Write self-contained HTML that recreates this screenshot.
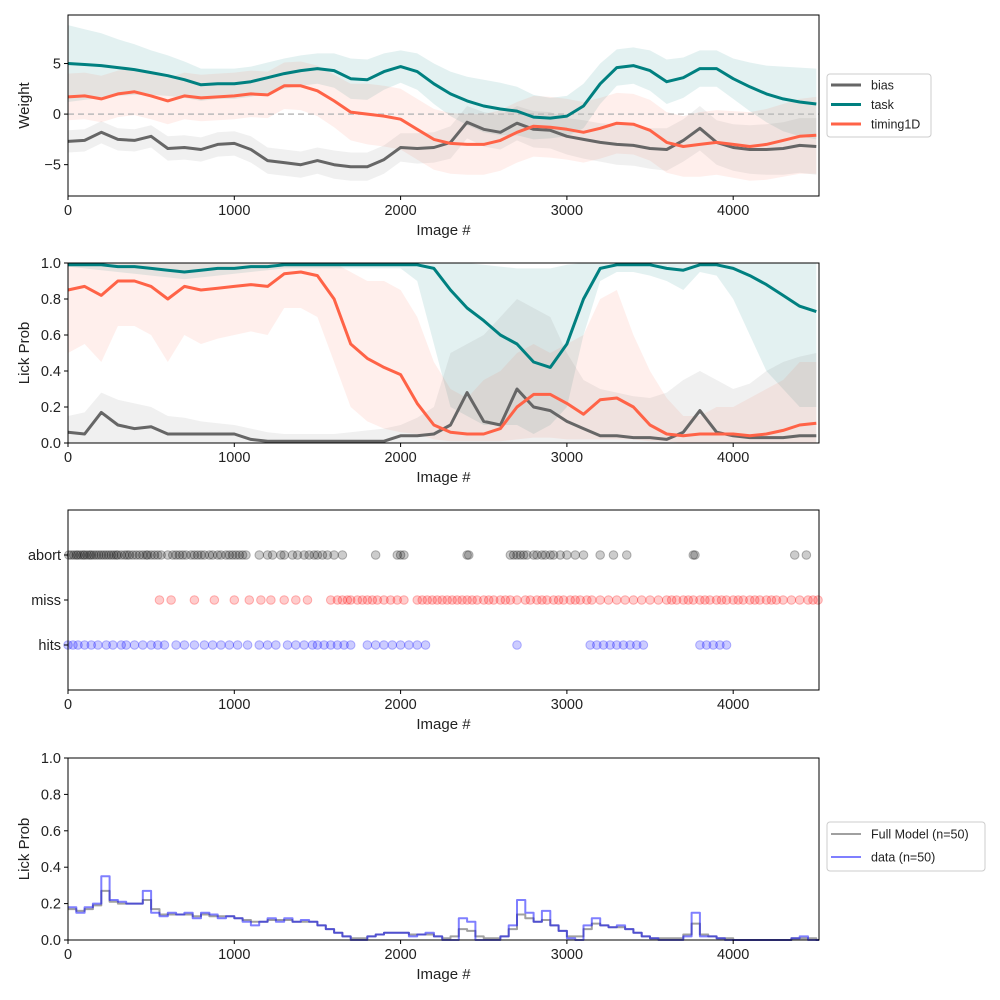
<!DOCTYPE html>
<html><head><meta charset="utf-8">
<style>
html,body{margin:0;padding:0;background:#fff;}
svg{display:block;font-family:"Liberation Sans","DejaVu Sans",sans-serif;}
</style></head>
<body>
<svg id="fig" width="1000" height="1000" viewBox="0 0 1000 1000" xmlns="http://www.w3.org/2000/svg"></svg>
<script>
// ---------- data (step 100 from 0 to 4500) ----------
const xs100 = Array.from({length:46},(_,i)=>i*100);
const taskW = [5,4.9,4.8,4.6,4.4,4.1,3.8,3.4,2.9,3.0,3.0,3.2,3.6,4.0,4.3,4.5,4.3,3.5,3.4,4.2,4.7,4.2,3.0,2.0,1.3,0.8,0.5,0.3,-0.3,-0.4,-0.2,0.8,3.0,4.6,4.8,4.3,3.2,3.6,4.5,4.5,3.5,2.7,2.0,1.5,1.2,1.0];
const taskErr = [3.8,3.5,3.2,2.8,2.5,2.2,2,1.8,1.6,1.5,1.5,1.5,1.5,1.5,1.5,1.5,1.7,2,2,1.8,1.6,1.8,2,2.2,2.4,2.6,2.6,2.4,2.2,2,2,2.2,2,1.8,1.8,2,2.2,2,1.8,1.8,2,2.4,2.8,3.2,3.4,3.5];
const timingW = [1.7,1.8,1.5,2.0,2.2,1.8,1.3,1.8,1.6,1.7,1.8,2.0,1.9,2.8,2.8,2.3,1.3,0.2,0,-0.2,-0.5,-1.5,-2.5,-2.9,-3.0,-3.0,-2.6,-1.8,-1.2,-1.3,-1.5,-1.8,-1.4,-0.9,-1.0,-1.6,-2.8,-3.2,-3.0,-2.8,-3.0,-3.2,-3.0,-2.6,-2.2,-2.1];
const timingErr = [2.3,2.3,2.3,2.3,2.3,2.3,2.3,2.3,2.3,2.3,2.3,2.3,2.3,2.3,2.4,2.5,2.6,2.8,3,3,3,3,3,3,3,3,3,3,3,3,3,3,3,3,3,3,3,3,3.2,3.2,3.3,3.4,3.5,3.6,3.7,3.8];
const biasW = [-2.7,-2.6,-1.8,-2.5,-2.6,-2.2,-3.4,-3.3,-3.5,-3.0,-2.9,-3.5,-4.6,-4.8,-5.0,-4.6,-5.0,-5.2,-5.2,-4.5,-3.3,-3.4,-3.3,-2.8,-0.8,-1.5,-1.8,-0.9,-1.5,-1.6,-2.2,-2.5,-2.8,-3.0,-3.1,-3.4,-3.5,-2.6,-1.4,-2.8,-3.3,-3.5,-3.5,-3.4,-3.1,-3.2];
const biasErr = [1.1,1.1,1.1,1.1,1.1,1.1,1.2,1.2,1.2,1.2,1.2,1.3,1.3,1.3,1.3,1.3,1.4,1.4,1.4,1.4,1.4,1.5,1.5,1.6,1.6,1.7,1.7,1.7,1.8,1.8,1.8,1.9,1.9,2,2,2,2.1,2.1,2.2,2.2,2.3,2.4,2.5,2.6,2.7,2.8];

const taskP = [0.99,0.99,0.99,0.98,0.98,0.97,0.96,0.95,0.96,0.97,0.97,0.98,0.98,0.99,0.99,0.99,0.99,0.99,0.99,0.99,0.99,0.99,0.97,0.85,0.75,0.68,0.6,0.55,0.45,0.42,0.55,0.8,0.97,0.99,0.99,0.99,0.97,0.96,0.99,0.99,0.97,0.93,0.88,0.82,0.76,0.73];
const taskPlo = [0.98,0.97,0.96,0.95,0.94,0.93,0.92,0.91,0.92,0.93,0.94,0.95,0.96,0.97,0.97,0.97,0.97,0.97,0.97,0.97,0.97,0.9,0.55,0.2,0.15,0.1,0.1,0.1,0.05,0.1,0.2,0.6,0.9,0.95,0.95,0.93,0.9,0.85,0.95,0.93,0.8,0.6,0.4,0.3,0.2,0.2];
const taskPhi = [1,1,1,1,1,1,1,1,1,1,1,1,1,1,1,1,1,1,1,1,1,1,1,1,1,0.99,0.98,0.97,0.97,0.97,0.99,1,1,1,1,1,1,1,1,1,1,1,1,1,1,1];
const timingP = [0.85,0.87,0.82,0.9,0.9,0.87,0.8,0.87,0.85,0.86,0.87,0.88,0.87,0.94,0.95,0.93,0.8,0.55,0.47,0.42,0.38,0.22,0.1,0.06,0.05,0.05,0.08,0.2,0.27,0.27,0.22,0.16,0.24,0.25,0.2,0.1,0.05,0.04,0.05,0.05,0.05,0.04,0.05,0.07,0.1,0.11];
const timingPlo = [0.5,0.55,0.45,0.65,0.65,0.6,0.45,0.6,0.55,0.58,0.6,0.62,0.6,0.75,0.75,0.7,0.45,0.2,0.12,0.08,0.06,0.05,0.02,0.01,0.01,0.01,0.01,0.02,0.03,0.03,0.02,0.02,0.02,0.02,0.02,0.01,0.01,0,0,0,0,0,0,0,0,0];
const timingPhi = [1,1,1,1,1,1,1,1,1,1,1,1,1,1,1,1,1,0.95,0.9,0.9,0.85,0.7,0.45,0.3,0.25,0.35,0.4,0.5,0.55,0.5,0.55,0.6,0.8,0.85,0.6,0.4,0.25,0.15,0.15,0.2,0.2,0.25,0.3,0.35,0.45,0.45];
const biasP = [0.06,0.05,0.17,0.1,0.08,0.09,0.05,0.05,0.05,0.05,0.05,0.02,0.01,0.01,0.01,0.01,0.01,0.01,0.01,0.01,0.04,0.04,0.05,0.1,0.28,0.12,0.1,0.3,0.2,0.18,0.12,0.08,0.04,0.04,0.03,0.03,0.02,0.06,0.18,0.06,0.04,0.03,0.03,0.03,0.04,0.04];
const biasPhi = [0.15,0.17,0.28,0.24,0.22,0.2,0.15,0.14,0.12,0.11,0.1,0.08,0.06,0.05,0.05,0.05,0.05,0.06,0.07,0.08,0.1,0.14,0.2,0.5,0.55,0.6,0.7,0.8,0.75,0.7,0.5,0.35,0.3,0.28,0.26,0.25,0.28,0.35,0.4,0.35,0.3,0.33,0.4,0.45,0.48,0.5];

const abortX = [5,20,35,50,60,75,90,100,115,130,140,155,170,185,200,215,230,245,260,275,290,300,320,340,355,370,390,410,430,450,470,480,500,520,540,560,600,630,650,670,690,710,740,760,780,800,820,850,870,900,920,950,970,990,1010,1030,1050,1070,1150,1200,1230,1280,1300,1350,1380,1420,1450,1480,1500,1530,1560,1600,1650,1850,1980,2000,2020,2400,2410,2660,2680,2700,2720,2740,2760,2800,2820,2850,2870,2900,2920,2960,3000,3050,3100,3200,3280,3360,3760,3770,4370,4440];
const missX = [550,620,760,880,1000,1090,1160,1220,1300,1370,1440,1580,1620,1650,1680,1700,1740,1770,1800,1830,1860,1900,1940,1980,2020,2100,2130,2160,2190,2220,2250,2280,2310,2340,2370,2400,2430,2460,2500,2530,2560,2600,2630,2660,2700,2750,2780,2820,2850,2880,2920,2950,2980,3020,3050,3080,3120,3150,3200,3250,3300,3350,3400,3450,3500,3550,3600,3630,3660,3700,3730,3760,3800,3830,3860,3900,3930,3960,4000,4030,4060,4100,4130,4160,4200,4230,4260,4300,4350,4400,4450,4480,4510];
const hitsX = [0,30,60,100,140,180,230,270,320,350,400,450,500,540,580,650,700,760,820,870,920,970,1020,1080,1150,1200,1250,1320,1370,1420,1470,1500,1540,1580,1620,1660,1700,1800,1850,1900,1950,2000,2050,2100,2150,2700,3140,3180,3220,3260,3300,3340,3380,3420,3460,3800,3840,3880,3920,3960];

// panel 4 (step 50 from 0 to 4500)
const xs50 = Array.from({length:91},(_,i)=>i*50);
const dataP = [0.18,0.15,0.18,0.2,0.35,0.22,0.21,0.2,0.2,0.27,0.15,0.13,0.15,0.14,0.15,0.12,0.15,0.14,0.12,0.13,0.12,0.1,0.08,0.1,0.12,0.1,0.12,0.1,0.11,0.1,0.08,0.06,0.04,0.02,0,0,0.02,0.03,0.04,0.04,0.04,0.02,0.03,0.04,0.02,0,0,0.12,0.1,0,0,0,0.02,0.08,0.22,0.15,0.1,0.16,0.08,0.05,0.01,0,0.08,0.12,0.08,0.07,0.08,0.06,0.04,0.02,0.01,0,0,0,0.02,0.15,0.02,0.02,0.01,0,0,0,0,0,0,0,0,0.01,0.02,0,0];
const modelP = [0.17,0.16,0.17,0.19,0.27,0.21,0.2,0.2,0.2,0.22,0.17,0.14,0.14,0.14,0.14,0.13,0.14,0.13,0.13,0.13,0.12,0.11,0.1,0.1,0.11,0.11,0.11,0.1,0.1,0.1,0.08,0.06,0.04,0.02,0.01,0.01,0.02,0.03,0.04,0.04,0.04,0.03,0.03,0.03,0.02,0.01,0.02,0.06,0.05,0.02,0.01,0.01,0.02,0.06,0.14,0.12,0.1,0.11,0.08,0.05,0.02,0.02,0.06,0.09,0.08,0.07,0.07,0.06,0.04,0.02,0.01,0.01,0.01,0.01,0.03,0.09,0.03,0.02,0.01,0.01,0,0,0,0,0,0,0,0.01,0.01,0.01,0];

const xTicks = [0,1000,2000,3000,4000];

// ---------- helpers ----------
const NS="http://www.w3.org/2000/svg";
const svg=document.getElementById('fig');
function mk(tag,attrs,parent){const e=document.createElementNS(NS,tag);for(const k in attrs)e.setAttribute(k,attrs[k]);(parent||svg).appendChild(e);return e;}
const X0=68,X1=819,XMAX=4516;
const sx=v=>X0+(X1-X0)*v/XMAX;
function mkY(top,bot,ymin,ymax){return v=>bot-(bot-top)*(v-ymin)/(ymax-ymin);}
function linePath(xv,yv,sy){return xv.map((x,i)=>(i?'L':'M')+sx(x).toFixed(1)+','+sy(yv[i]).toFixed(1)).join('');}
function stepPath(xv,yv,sy){let d='';xv.forEach((x,i)=>{const px=sx(x).toFixed(1),py=sy(yv[i]).toFixed(1);if(i===0)d+='M'+px+','+py;else{d+='H'+px+'V'+py;}});d+='H'+sx(XMAX).toFixed(1);return d;}
function bandPath(xv,lo,hi,sy){let d=xv.map((x,i)=>(i?'L':'M')+sx(x).toFixed(1)+','+sy(hi[i]).toFixed(1)).join('');for(let i=xv.length-1;i>=0;i--)d+='L'+sx(xv[i]).toFixed(1)+','+sy(lo[i]).toFixed(1);return d+'Z';}
function axes(name,top,bot,sy,yTicks,yLabels,ylabel){
  const g=mk('g',{});
  
  
  const fr=mk('rect',{x:X0,y:top,width:X1-X0,height:bot-top,fill:'none',stroke:'#000','stroke-width':1},g);
  
  
  xTicks.forEach(t=>{
    mk('line',{x1:sx(t),x2:sx(t),y1:bot,y2:bot+4,stroke:'#000'},g);
    const tx=mk('text',{x:sx(t),y:bot+19,'font-size':14.5,'text-anchor':'middle',fill:'#222'},g);
    tx.textContent=t;
    
    
  });
  const xl=mk('text',{x:(X0+X1)/2,y:bot+39,'font-size':15,'text-anchor':'middle',fill:'#222'},g);
  xl.textContent='Image #';
  
  
  yTicks.forEach((t,i)=>{
    mk('line',{x1:X0-4,x2:X0,y1:sy(t),y2:sy(t),stroke:'#000'},g);
    const tx=mk('text',{x:X0-7,y:sy(t)+5,'font-size':14.5,'text-anchor':'end',fill:'#222'},g);
    tx.textContent=yLabels[i];
    
    
  });
  if(ylabel){
    const cy=(top+bot)/2;
    const yl=mk('text',{x:0,y:0,'font-size':15,'text-anchor':'middle',fill:'#222',transform:`translate(29,${cy}) rotate(-90)`},g);
    yl.textContent=ylabel;
    
    
  }
  return g;
}
function addBand(name,xv,lo,hi,sy,fill){const p=mk('path',{d:bandPath(xv,lo,hi,sy),fill:fill,stroke:'none'});}
function addLine(name,d,color,w,op){const p=mk('path',{d:d,fill:'none',stroke:color,'stroke-width':w,'stroke-linejoin':'round','stroke-opacity':op||1});}

const TEAL='#008080',TOM='#ff6347',GR='#666666';

// ---------- panel 1 ----------
const sy1=mkY(15,196,-8.1,9.8);
addBand('task-weight-band',xs100,taskW.map((v,i)=>v-taskErr[i]),taskW.map((v,i)=>v+taskErr[i]),sy1,'rgba(0,128,128,0.11)');
addBand('timing-weight-band',xs100,timingW.map((v,i)=>v-timingErr[i]),timingW.map((v,i)=>v+timingErr[i]),sy1,'rgba(255,99,71,0.1)');
addBand('bias-weight-band',xs100,biasW.map((v,i)=>v-biasErr[i]),biasW.map((v,i)=>v+biasErr[i]),sy1,'rgba(128,128,128,0.12)');
const zl=mk('line',{x1:X0,x2:X1,y1:sy1(0),y2:sy1(0),stroke:'#bbb','stroke-width':1.5,'stroke-dasharray':'6,4'});


addLine('bias-weight-line',linePath(xs100,biasW,sy1),GR,3);
addLine('task-weight-line',linePath(xs100,taskW,sy1),TEAL,3);
addLine('timing-weight-line',linePath(xs100,timingW,sy1),TOM,3);
axes('weights-axes',15,196,sy1,[-5,0,5],['−5','0','5'],'Weight');
// legend 1
{const g=mk('g',{});
mk('rect',{x:827,y:74,width:104,height:63,rx:3,fill:'#fff',stroke:'#ccc'},g);
[['bias',GR],['task',TEAL],['timing1D',TOM]].forEach((e,i)=>{const y=85+i*19.5;
const l=mk('line',{x1:831,x2:861,y1:y,y2:y,stroke:e[1],'stroke-width':3},g);

const t=mk('text',{x:871,y:y+4.5,'font-size':12.5,fill:'#222'},g);t.textContent=e[0];});}

// ---------- panel 2 ----------
const sy2=mkY(263,443,0,1);
addBand('task-prob-band',xs100,taskPlo,taskPhi,sy2,'rgba(0,128,128,0.11)');
addBand('timing-prob-band',xs100,timingPlo,timingPhi,sy2,'rgba(255,99,71,0.1)');
addBand('bias-prob-band',xs100,xs100.map(()=>0),biasPhi,sy2,'rgba(128,128,128,0.12)');
addLine('bias-prob-line',linePath(xs100,biasP,sy2),GR,3);
addLine('task-prob-line',linePath(xs100,taskP,sy2),TEAL,3);
addLine('timing-prob-line',linePath(xs100,timingP,sy2),TOM,3);
axes('lick-prob-axes',263,443,sy2,[0,0.2,0.4,0.6,0.8,1],['0.0','0.2','0.4','0.6','0.8','1.0'],'Lick Prob');

// ---------- panel 3 ----------
const sy3=mkY(510,690,-1,3);
[[abortX,2,'rgba(0,0,0,0.2)','abort-point'],[missX,1,'rgba(255,0,0,0.2)','miss-point'],[hitsX,0,'rgba(0,0,255,0.2)','hit-point']].forEach(s=>{
  s[0].forEach(x=>{const c=mk('circle',{cx:sx(x),cy:sy3(s[1]),r:4.3,fill:s[2],stroke:s[2].replace('0.2)','0.28)')});
  
  });
});
axes('outcomes-axes',510,690,sy3,[0,1,2],['hits','miss','abort'],null);

// ---------- panel 4 ----------
const sy4=mkY(758,940,0,1);
addLine('model-line',stepPath(xs50,modelP,sy4),'#888',2,0.8);
addLine('data-line',stepPath(xs50,dataP,sy4),'#0000ff',2,0.5);
axes('fit-axes',758,940,sy4,[0,0.2,0.4,0.6,0.8,1],['0.0','0.2','0.4','0.6','0.8','1.0'],'Lick Prob');
{const g=mk('g',{});
mk('rect',{x:827,y:822,width:158,height:49,rx:3,fill:'#fff',stroke:'#ccc'},g);
[['Full Model (n=50)','rgba(136,136,136,0.8)'],['data (n=50)','rgba(0,0,255,0.5)']].forEach((e,i)=>{const y=834+i*23;
const l=mk('line',{x1:831,x2:861,y1:y,y2:y,stroke:e[1],'stroke-width':2},g);

const t=mk('text',{x:871,y:y+4.5,'font-size':12.5,fill:'#222'},g);t.textContent=e[0];});}
</script>
</body></html>
